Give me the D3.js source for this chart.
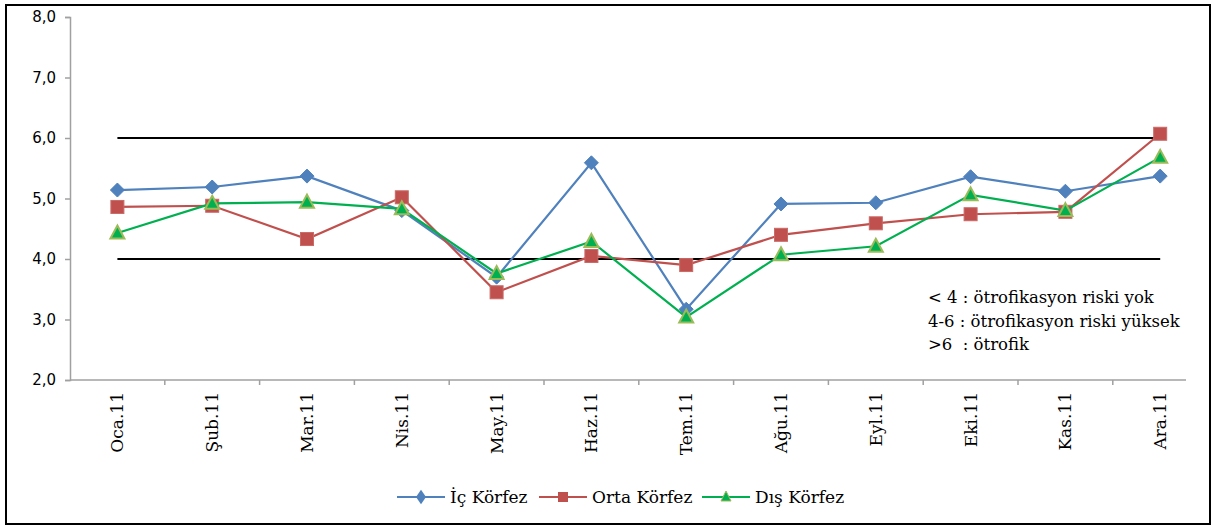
<!DOCTYPE html>
<html>
<head>
<meta charset="utf-8">
<script src="https://cdn.jsdelivr.net/npm/d3@7"></script>
<style>
    body { margin: 0; background: #fff; }
    svg text { fill: #000; }
</style>
</head>
<body>
<svg id="chart" width="1214" height="527"></svg>
<script>
var months = ["Oca.11", "Şub.11", "Mar.11", "Nis.11", "May.11", "Haz.11", "Tem.11", "Ağu.11", "Eyl.11", "Eki.11", "Kas.11", "Ara.11"];
var icKorfez = [5.14, 5.19, 5.37, 4.80, 3.70, 5.59, 3.17, 4.91, 4.93, 5.36, 5.12, 5.37];
var ortaKorfez = [4.86, 4.88, 4.33, 5.02, 3.45, 4.05, 3.90, 4.40, 4.59, 4.74, 4.78, 6.07];
var disKorfez = [4.43, 4.92, 4.94, 4.83, 3.76, 4.29, 3.04, 4.07, 4.21, 5.06, 4.80, 5.68];
var yTicks = [2, 3, 4, 5, 6, 7, 8];
var limits = [4, 6];
var notes = ["< 4 : ötrofikasyon riski yok", "4-6 : ötrofikasyon riski yüksek", ">6  : ötrofik"];

var series = [
    {name: "İç Körfez", values: icKorfez, color: "#4F81BD", marker: "diamond"},
    {name: "Orta Körfez", values: ortaKorfez, color: "#C0504D", marker: "square"},
    {name: "Dış Körfez", values: disKorfez, color: "#00B050", marker: "triangle"}
];

var svg = d3.select("#chart");
var serif = "'DejaVu Serif', 'Liberation Serif', serif";

// cerceve
svg.append("rect")
    .attr("x", 6).attr("y", 5)
    .attr("width", 1204).attr("height", 519)
    .attr("fill", "none")
    .attr("stroke", "#000")
    .attr("stroke-width", 2);

var plotLeft = 70, plotTop = 17, plotBottom = 380;
var step = 94.8;

var x = d3.scaleBand()
    .domain(months)
    .range([plotLeft, plotLeft + step * months.length]);

var y = d3.scaleLinear()
    .domain([2, 8])
    .range([plotBottom, plotTop]);

// y ekseni
var yAxis = svg.append("g")
    .attr("transform", "translate(" + plotLeft + ",0)")
    .call(d3.axisLeft(y).tickValues(yTicks).tickSize(5).tickFormat(function (d) {
        return d3.format(".1f")(d).replace(".", ",");
    }));
yAxis.select(".domain").attr("stroke", "#A0A0A0").attr("stroke-width", 1.5);
yAxis.selectAll(".tick line").attr("stroke", "#A0A0A0").attr("stroke-width", 1.5);
yAxis.selectAll(".tick text")
    .attr("x", -14)
    .attr("font-family", "'DejaVu Sans', Verdana, sans-serif")
    .attr("font-size", 15)
    .attr("fill", "#000");

// x ekseni
var xAxisG = svg.append("g");
xAxisG.append("line")
    .attr("x1", plotLeft).attr("x2", 1186)
    .attr("y1", plotBottom).attr("y2", plotBottom)
    .attr("stroke", "#A0A0A0").attr("stroke-width", 1.5);
xAxisG.selectAll(".xtick")
    .data(months.slice(0, months.length - 1))
    .enter().append("line")
    .attr("x1", function (d) { return x(d) + x.bandwidth(); })
    .attr("x2", function (d) { return x(d) + x.bandwidth(); })
    .attr("y1", plotBottom).attr("y2", plotBottom + 5)
    .attr("stroke", "#A0A0A0").attr("stroke-width", 1.5);
xAxisG.selectAll(".xlabel")
    .data(months)
    .enter().append("text")
    .attr("transform", function (d) {
        return "translate(" + (x(d) + x.bandwidth() / 2 + 6) + "," + (plotBottom + 12) + ") rotate(-90)";
    })
    .attr("text-anchor", "end")
    .attr("font-family", serif)
    .attr("font-size", 17)
    .text(function (d) { return d; });

// sinir cizgileri
svg.selectAll(".limit")
    .data(limits)
    .enter().append("line")
    .attr("x1", x(months[0]) + x.bandwidth() / 2)
    .attr("x2", x(months[months.length - 1]) + x.bandwidth() / 2)
    .attr("y1", function (d) { return y(d); })
    .attr("y2", function (d) { return y(d); })
    .attr("stroke", "#000")
    .attr("stroke-width", 2.2);

function cx(i) {
    return x(months[i]) + x.bandwidth() / 2;
}

function drawMarker(g, type, color, px, py) {
    if (type === "diamond") {
        g.append("path")
            .attr("d", "M" + px + "," + (py - 7) + "L" + (px + 7) + "," + py + "L" + px + "," + (py + 7) + "L" + (px - 7) + "," + py + "Z")
            .attr("fill", color)
            .attr("stroke", color);
    } else if (type === "square") {
        g.append("rect")
            .attr("x", px - 6.5).attr("y", py - 6.5)
            .attr("width", 13).attr("height", 13)
            .attr("fill", color)
            .attr("stroke", "#C96A67")
            .attr("stroke-width", 1);
    } else {
        g.append("path")
            .attr("d", "M" + px + "," + (py - 7.5) + "L" + (px + 7) + "," + (py + 5.5) + "L" + (px - 7) + "," + (py + 5.5) + "Z")
            .attr("fill", color)
            .attr("stroke", "#9BBB59")
            .attr("stroke-width", 2);
    }
}

var line = d3.line()
    .x(function (d, i) { return cx(i); })
    .y(function (d) { return y(d); });

series.forEach(function (s) {
    var g = svg.append("g");
    g.append("path")
        .datum(s.values)
        .attr("d", line)
        .attr("fill", "none")
        .attr("stroke", s.color)
        .attr("stroke-width", 2.2);
    s.values.forEach(function (v, i) {
        drawMarker(g, s.marker, s.color, cx(i), y(v));
    });
});

// aciklama
svg.append("g").selectAll("text")
    .data(notes)
    .enter().append("text")
    .attr("x", 928)
    .attr("y", function (d, i) { return 303 + i * 23.5; })
    .attr("font-family", serif)
    .attr("font-size", 16.5)
    .style("white-space", "pre")
    .text(function (d) { return d; });

// lejant
var legendX = [397, 539, 702];
var legend = svg.append("g");
series.forEach(function (s, i) {
    var lx = legendX[i], ly = 497;
    legend.append("line")
        .attr("x1", lx).attr("x2", lx + 48)
        .attr("y1", ly).attr("y2", ly)
        .attr("stroke", s.color)
        .attr("stroke-width", 2.2);
    var mg = legend.append("g");
    if (s.marker === "diamond") {
        mg.append("path")
            .attr("d", d3.symbol().type(d3.symbolDiamond).size(60)())
            .attr("transform", "translate(" + (lx + 24) + "," + ly + ") scale(1.2,1)")
            .attr("fill", s.color);
    } else if (s.marker === "square") {
        mg.append("rect")
            .attr("x", lx + 19).attr("y", ly - 5)
            .attr("width", 10).attr("height", 10)
            .attr("fill", s.color);
    } else {
        mg.append("path")
            .attr("d", "M" + (lx + 24) + "," + (ly - 6) + "L" + (lx + 29) + "," + (ly + 4) + "L" + (lx + 19) + "," + (ly + 4) + "Z")
            .attr("fill", s.color)
            .attr("stroke", "#9BBB59")
            .attr("stroke-width", 1);
    }
    legend.append("text")
        .attr("x", lx + 53)
        .attr("y", ly + 6)
        .attr("font-family", serif)
        .attr("font-size", 17)
        .text(s.name);
});
</script>
</body>
</html>
